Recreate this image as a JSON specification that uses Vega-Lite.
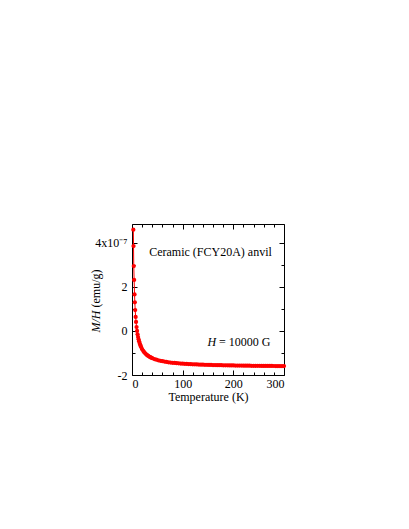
{
  "$schema": "https://vega.github.io/schema/vega-lite/v6.json",
  "width": 152,
  "height": 151,
  "autosize": {"type": "none"},
  "padding": {"left": 132, "top": 224, "right": 125, "bottom": 154},
  "background": "white",
  "config": {
    "font": "Liberation Serif",
    "view": {"stroke": "black", "strokeWidth": 1},
    "axis": {"domain": false, "grid": false, "labelFont": "Liberation Serif", "titleFont": "Liberation Serif", "labelFontSize": 12, "titleFontSize": 12, "labelColor": "black", "titleColor": "black", "tickColor": "black", "titleFontWeight": "normal"}
  },
  "datasets": {
    "mh": [
      {"T": 2.6, "MH": 4.6},
      {"T": 3.0, "MH": 3.86},
      {"T": 3.5, "MH": 2.95},
      {"T": 4.2, "MH": 2.32},
      {"T": 5.0, "MH": 1.66},
      {"T": 5.6, "MH": 1.3},
      {"T": 6.3, "MH": 0.95},
      {"T": 7.2, "MH": 0.64},
      {"T": 8, "MH": 0.41},
      {"T": 9, "MH": 0.18},
      {"T": 10, "MH": 0.0},
      {"T": 11, "MH": -0.15},
      {"T": 12, "MH": -0.275},
      {"T": 13, "MH": -0.38},
      {"T": 14, "MH": -0.471},
      {"T": 15, "MH": -0.55},
      {"T": 16, "MH": -0.619},
      {"T": 17, "MH": -0.679},
      {"T": 18, "MH": -0.733},
      {"T": 20, "MH": -0.825},
      {"T": 22, "MH": -0.9},
      {"T": 24, "MH": -0.963},
      {"T": 26, "MH": -1.015},
      {"T": 28, "MH": -1.061},
      {"T": 30, "MH": -1.1},
      {"T": 32, "MH": -1.134},
      {"T": 34, "MH": -1.165},
      {"T": 36, "MH": -1.192},
      {"T": 38, "MH": -1.216},
      {"T": 40, "MH": -1.238},
      {"T": 44, "MH": -1.275},
      {"T": 48, "MH": -1.306},
      {"T": 52, "MH": -1.333},
      {"T": 56, "MH": -1.355},
      {"T": 60, "MH": -1.375},
      {"T": 64, "MH": -1.392},
      {"T": 68, "MH": -1.407},
      {"T": 72, "MH": -1.421},
      {"T": 76, "MH": -1.433},
      {"T": 80, "MH": -1.444},
      {"T": 84, "MH": -1.454},
      {"T": 88, "MH": -1.463},
      {"T": 92, "MH": -1.471},
      {"T": 96, "MH": -1.478},
      {"T": 100, "MH": -1.485},
      {"T": 104, "MH": -1.491},
      {"T": 108, "MH": -1.497},
      {"T": 112, "MH": -1.503},
      {"T": 116, "MH": -1.508},
      {"T": 120, "MH": -1.512},
      {"T": 124, "MH": -1.517},
      {"T": 128, "MH": -1.521},
      {"T": 132, "MH": -1.525},
      {"T": 136, "MH": -1.529},
      {"T": 140, "MH": -1.532},
      {"T": 144, "MH": -1.535},
      {"T": 148, "MH": -1.539},
      {"T": 152, "MH": -1.541},
      {"T": 156, "MH": -1.544},
      {"T": 160, "MH": -1.547},
      {"T": 164, "MH": -1.549},
      {"T": 168, "MH": -1.552},
      {"T": 172, "MH": -1.554},
      {"T": 176, "MH": -1.556},
      {"T": 180, "MH": -1.558},
      {"T": 184, "MH": -1.56},
      {"T": 188, "MH": -1.562},
      {"T": 192, "MH": -1.564},
      {"T": 196, "MH": -1.566},
      {"T": 200, "MH": -1.567},
      {"T": 204, "MH": -1.569},
      {"T": 208, "MH": -1.571},
      {"T": 212, "MH": -1.572},
      {"T": 216, "MH": -1.574},
      {"T": 220, "MH": -1.575},
      {"T": 224, "MH": -1.576},
      {"T": 228, "MH": -1.578},
      {"T": 232, "MH": -1.579},
      {"T": 236, "MH": -1.58},
      {"T": 240, "MH": -1.581},
      {"T": 244, "MH": -1.582},
      {"T": 248, "MH": -1.583},
      {"T": 252, "MH": -1.585},
      {"T": 256, "MH": -1.586},
      {"T": 260, "MH": -1.587},
      {"T": 264, "MH": -1.588},
      {"T": 268, "MH": -1.588},
      {"T": 272, "MH": -1.589},
      {"T": 276, "MH": -1.59},
      {"T": 280, "MH": -1.591},
      {"T": 284, "MH": -1.592},
      {"T": 288, "MH": -1.593},
      {"T": 292, "MH": -1.594},
      {"T": 296, "MH": -1.594},
      {"T": 300, "MH": -1.595}
    ]
  },
  "layer": [
    {
      "data": {"name": "mh"},
      "mark": {"type": "line", "color": "#ff0000", "strokeWidth": 1},
      "encoding": {
        "x": {"field": "T", "type": "quantitative", "scale": {"domain": [0, 300], "nice": false, "zero": false},
              "axis": {"orient": "bottom", "values": [0, 100, 200, 300], "ticks": false, "labelPadding": 3, "title": "Temperature (K)", "titlePadding": 2}},
        "y": {"field": "MH", "type": "quantitative", "scale": {"domain": [-2, 4.86], "nice": false, "zero": false},
              "axis": {"orient": "left", "values": [-2, 0, 2, 4], "ticks": false, "labelPadding": 5, "labelExpr": "datum.value == 4 ? '4x10⁻⁷' : replace(datum.label, '−', '-')", "title": "(emu/g)", "titleX": -37, "titleY": 64, "titleBaseline": "middle", "titleAngle": -90}}
      }
    },
    {
      "data": {"name": "mh"},
      "mark": {"type": "circle", "color": "#ff0000", "size": 18, "opacity": 1},
      "encoding": {
        "x": {"field": "T", "type": "quantitative",
              "axis": {"orient": "bottom", "values": [0, 100, 200, 300], "labels": false, "title": null, "tickSize": -5}},
        "y": {"field": "MH", "type": "quantitative",
              "axis": {"orient": "left", "values": [-2, 0, 2, 4], "labels": false, "title": "M/H", "titleFontStyle": "italic", "titleX": -37, "titleY": 97, "titleBaseline": "middle", "titleAngle": -90, "tickSize": -5}}
      }
    },
    {
      "data": {"name": "mh"},
      "mark": {"type": "circle", "opacity": 0},
      "encoding": {
        "x": {"field": "T", "type": "quantitative",
              "axis": {"orient": "top", "values": [0, 100, 200, 300], "labels": false, "title": null, "tickSize": -5}},
        "y": {"field": "MH", "type": "quantitative",
              "axis": {"orient": "right", "values": [-2, 0, 2, 4], "labels": false, "title": null, "tickSize": -5}}
      }
    },
    {
      "data": {"name": "mh"},
      "mark": {"type": "circle", "opacity": 0},
      "encoding": {
        "x": {"field": "T", "type": "quantitative",
              "axis": {"orient": "bottom", "values": [20, 40, 60, 80, 120, 140, 160, 180, 220, 240, 260, 280], "labels": false, "title": null, "tickSize": -3}},
        "y": {"field": "MH", "type": "quantitative",
              "axis": {"orient": "left", "values": [-1, 1, 3], "labels": false, "title": null, "tickSize": -3}}
      }
    },
    {
      "data": {"name": "mh"},
      "mark": {"type": "circle", "opacity": 0},
      "encoding": {
        "x": {"field": "T", "type": "quantitative",
              "axis": {"orient": "top", "values": [20, 40, 60, 80, 120, 140, 160, 180, 220, 240, 260, 280], "labels": false, "title": null, "tickSize": -3}},
        "y": {"field": "MH", "type": "quantitative",
              "axis": {"orient": "right", "values": [-1, 1, 3], "labels": false, "title": null, "tickSize": -3}}
      }
    },
    {
      "data": {"values": [{}]},
      "mark": {"type": "text", "text": "Ceramic (FCY20A) anvil", "font": "Liberation Serif", "fontSize": 12, "align": "center", "baseline": "middle", "color": "black"},
      "encoding": {
        "x": {"datum": 155, "type": "quantitative", "axis": null},
        "y": {"datum": 3.57, "type": "quantitative", "axis": null}
      }
    },
    {
      "data": {"values": [{}]},
      "mark": {"type": "text", "text": "H", "font": "Liberation Serif", "fontSize": 12, "fontStyle": "italic", "align": "right", "baseline": "middle", "color": "black"},
      "encoding": {
        "x": {"datum": 166, "type": "quantitative", "axis": null},
        "y": {"datum": -0.48, "type": "quantitative", "axis": null}
      }
    },
    {
      "data": {"values": [{}]},
      "mark": {"type": "text", "text": "= 10000 G", "font": "Liberation Serif", "fontSize": 12, "align": "left", "baseline": "middle", "dx": 3, "color": "black"},
      "encoding": {
        "x": {"datum": 166, "type": "quantitative", "axis": null},
        "y": {"datum": -0.48, "type": "quantitative", "axis": null}
      }
    }
  ],
  "resolve": {"axis": {"x": "independent", "y": "independent"}}
}
